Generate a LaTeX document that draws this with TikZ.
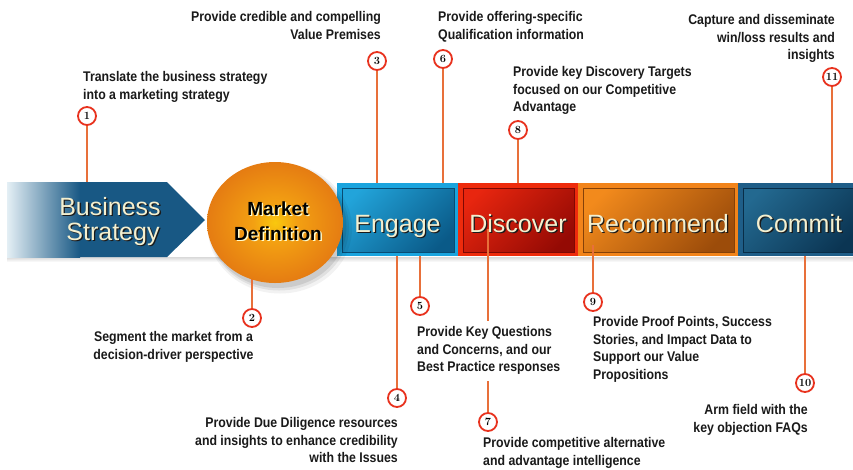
\documentclass[tikz,border=0pt]{standalone}
\usepackage{fontspec}
\newfontfamily\descfont{Liberation Sans}[FakeStretch=0.88]
\newfontfamily\stagefont{Liberation Sans}
\usetikzlibrary{shapes.geometric,calc}

\definecolor{lineorange}{HTML}{E8703A}
\definecolor{numred}{HTML}{E8321E}
\definecolor{textdark}{HTML}{1A1A1A}
\definecolor{cream}{HTML}{F4F0D0}
\definecolor{shadowc}{HTML}{1A1A1A}
\definecolor{arrowdark}{HTML}{185884}
\definecolor{arrowlight}{HTML}{E4EFF5}
\definecolor{engout}{HTML}{1AA4DE}
\definecolor{engtop}{HTML}{22A4DA}
\definecolor{engbot}{HTML}{0A5A88}
\definecolor{disout}{HTML}{EE2B0C}
\definecolor{distop}{HTML}{E8260F}
\definecolor{disbot}{HTML}{940A04}
\definecolor{recout}{HTML}{F2841A}
\definecolor{rectop}{HTML}{F28A1C}
\definecolor{recbot}{HTML}{9C4C0A}
\definecolor{comout}{HTML}{1F5E88}
\definecolor{comtop}{HTML}{236990}
\definecolor{combot}{HTML}{0B3553}
\definecolor{mdin}{HTML}{F9C80E}
\definecolor{mdmid}{HTML}{F3A012}
\definecolor{mdout}{HTML}{E57C12}

\pgfdeclareradialshading{mdball}{\pgfpoint{0bp}{0bp}}{%
  color(0bp)=(mdin); color(8bp)=(mdmid); color(25bp)=(mdout); color(50bp)=(mdout)}

% text with a small drop shadow behind it
\newcommand\castshadow[2]{\rlap{\kern1.3pt\raisebox{-1.3pt}{\textcolor{#2}{#1}}}#1}

\begin{document}
\begin{tikzpicture}[x=1pt,y=-1pt,
  stage/.style n args={3}{fill=#1, minimum height=73pt, inner sep=0pt,
    path picture={\path[top color=#2, bottom color=#3, shading angle=45, draw=#3!85!black, line width=0.4pt]
      ([shift={(5pt,-5pt)}]path picture bounding box.north west) rectangle
      ([shift={(-4pt,4pt)}]path picture bounding box.south east);}},
  stagelbl/.style={font=\stagefont\fontsize{25}{25}\selectfont, text=cream, inner sep=0pt, anchor=base},
  mdlbl/.style={font=\stagefont\bfseries\fontsize{19}{19}\selectfont, text=black, inner sep=0pt, anchor=base},
  numc/.style={circle, draw=numred, line width=1.8pt, fill=white, minimum size=18pt, inner sep=0pt,
    font=\rmfamily\bfseries\fontsize{11}{11}\selectfont, text=black},
  conn/.style={draw=lineorange, line width=1.8pt},
  desc/.style={font=\descfont\bfseries\fontsize{14}{17.5}\selectfont, text=textdark, inner sep=0pt},
]
\useasboundingbox (0,0) rectangle (853,469);
\fill[white] (0,0) rectangle (853,469);

% soft shadow under the band
\shade[top color=black!15, bottom color=white] (7,257) rectangle (853,262);

% Business Strategy arrow
\fill[arrowdark] (7,182) -- (167,182) -- (205,220) -- (167,257) -- (7,257) -- cycle;
\shade[left color=arrowlight, right color=arrowdark] (7,182) rectangle (80,257);
\coordinate (bstop) at (87,182);

% stage boxes
\node[stage={engout}{engtop}{engbot}, minimum width=121pt] (eng) at (397.5,219.5) {};
\node[stage={disout}{distop}{disbot}, minimum width=120pt] (dis) at (518,219.5) {};
\node[stage={recout}{rectop}{recbot}, minimum width=160pt] (rec) at (658,219.5) {};
\node[stage={comout}{comtop}{combot}, minimum width=122pt] (com) at (799,219.5) {};
\coordinate (d7) at (488,229);
\coordinate (r9) at (593,245);

% numbered markers
\node[numc] (c1) at (87,116) {\oldstylenums{1}};
\node[numc] (c2) at (252,318) {\oldstylenums{2}};
\node[numc] (c3) at (377,61) {\oldstylenums{3}};
\node[numc] (c4) at (397,398) {\oldstylenums{4}};
\node[numc] (c5) at (420,306) {\oldstylenums{5}};
\node[numc] (c6) at (443,59) {\oldstylenums{6}};
\node[numc] (c7) at (488,422) {\oldstylenums{7}};
\node[numc] (c8) at (518,130) {\oldstylenums{8}};
\node[numc] (c9) at (593,302) {\oldstylenums{9}};
\node[numc] (c10) at (805,383) {\oldstylenums{10}};
\node[numc] (c11) at (832,77) {\oldstylenums{11}};

% Market Definition disc (shadow first)
\coordinate (mdc) at (275,222.5);
\fill[black, opacity=0.05] ($(mdc)+(5,6)$) ellipse [x radius=72, y radius=65];
\fill[black, opacity=0.07] ($(mdc)+(4,5)$) ellipse [x radius=70, y radius=63];
\fill[black, opacity=0.09] ($(mdc)+(3,4)$) ellipse [x radius=68.5, y radius=61.5];

% connectors
\draw[conn] (c1.south) -- (c1.south |- bstop);
\draw[conn] (c2.north) -- (c2.north |- mdc);
\draw[conn] (c3.south) -- (c3.south |- eng.north);
\draw[conn] (c6.south) -- (c6.south |- eng.north);
\draw[conn] (c8.south) -- (c8.south |- dis.north);
\draw[conn] (c11.south) -- (c11.south |- com.north);
\draw[conn] (c4.north) -- (c4.north |- eng.south);
\draw[conn] (c5.north) -- (c5.north |- eng.south);
\draw[conn] (c7.north) -- (c7.north |- d7);
\draw[conn] (c9.north) -- (c9.north |- r9);
\draw[conn] (c10.north) -- (c10.north |- com.south);

\node[ellipse, minimum width=136pt, minimum height=121pt, shade, shading=mdball] (md) at (mdc) {};

% stage labels
\node[stagelbl] (bs1) at (110,215) {\castshadow{Business}{shadowc}};
\node[stagelbl] (bs2) at (113,240) {\castshadow{Strategy}{shadowc}};
\node[mdlbl] (md1) at (278,215) {\castshadow{Market}{white!80!yellow}};
\node[mdlbl] (md2) at (278,240) {\castshadow{Definition}{white!80!yellow}};
\node[stagelbl] (engl) at ([yshift=-12.5pt]eng.center) {\castshadow{Engage}{shadowc}};
\node[stagelbl] (disl) at ([yshift=-12.5pt]dis.center) {\castshadow{Discover}{shadowc}};
\node[stagelbl] (recl) at ([yshift=-12.5pt]rec.center) {\castshadow{Recommend}{shadowc}};
\node[stagelbl] (coml) at ([yshift=-12.5pt]com.center) {\castshadow{Commit}{shadowc}};

% descriptions
\node[desc, align=left, anchor=north west] (t1) at (83,71.5) {Translate the business strategy\\into a marketing strategy};
\node[desc, align=center, anchor=north] (t2) at (173.5,331.5) {Segment the market from a\\decision-driver perspective};
\node[desc, align=right, anchor=north east] (t3) at (381,11.5) {Provide credible and compelling\\Value Premises};
\node[desc, align=right, anchor=north east] (t4) at (398,417.5) {Provide Due Diligence resources\\and insights to enhance credibility\\with the Issues};
\node[desc, align=left, anchor=north west, fill=white, inner xsep=2pt, inner ysep=6pt] (t5) at (415,320.5) {Provide Key Questions\\and Concerns, and our\\Best Practice responses};
\node[desc, align=left, anchor=north west] (t6) at (438,11.5) {Provide offering-specific\\Qualification information};
\node[desc, align=left, anchor=north west] (t7) at (483,437.5) {Provide competitive alternative\\and advantage intelligence};
\node[desc, align=left, anchor=north west] (t8) at (513,66.5) {Provide key Discovery Targets\\focused on our Competitive\\Advantage};
\node[desc, align=left, anchor=north west] (t9) at (593,316.5) {Provide Proof Points, Success\\Stories, and Impact Data to\\Support our Value\\Propositions};
\node[desc, align=right, anchor=north east] (t10) at (808,404.5) {Arm field with the\\key objection FAQs};
\node[desc, align=right, anchor=north east] (t11) at (835,14.5) {Capture and disseminate\\win/loss results and\\insights};
\end{tikzpicture}
\end{document}
